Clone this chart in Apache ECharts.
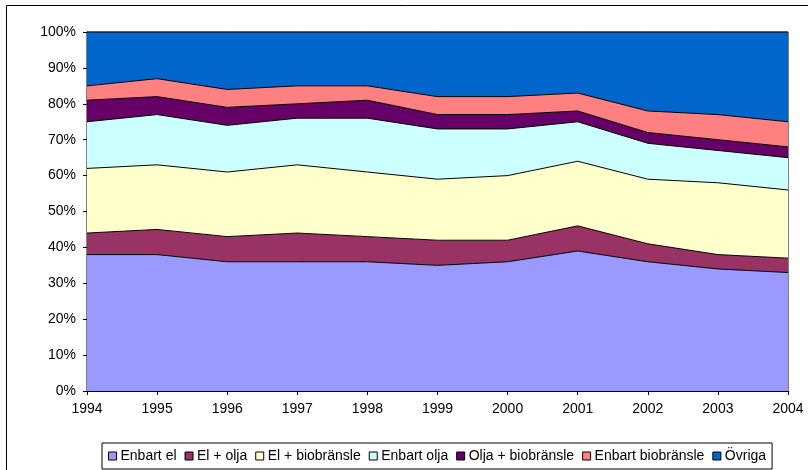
<!DOCTYPE html>
<html>
<head>
<meta charset="utf-8">
<script src="https://cdn.jsdelivr.net/npm/echarts@6/dist/echarts.min.js"></script>
<style>
  html, body { margin: 0; padding: 0; background: #fff; }
  #chart { width: 808px; height: 470px; }
</style>
</head>
<body>
<div id="chart"></div>
<script>
// år
const years = ['1994', '1995', '1996', '1997', '1998', '1999', '2000', '2001', '2002', '2003', '2004'];

// andel per uppvärmningssätt (%)
const enbartEl       = [38, 38, 36, 36, 36, 35, 36, 39, 36, 34, 33];
const elOlja         = [6, 7, 7, 8, 7, 7, 6, 7, 5, 4, 4];
const elBio          = [18, 18, 18, 19, 18, 17, 18, 18, 18, 20, 19];
const enbartOlja     = [13, 14, 13, 13, 15, 14, 13, 11, 10, 9, 9];
const oljaBio        = [6, 5, 5, 4, 5, 4, 4, 3, 3, 3, 3];
const enbartBio      = [4, 5, 5, 5, 4, 5, 5, 5, 6, 7, 7];
const ovriga         = [15, 13, 16, 15, 15, 18, 18, 17, 22, 23, 25];

const names  = ['Enbart el', 'El + olja', 'El + biobränsle', 'Enbart olja', 'Olja + biobränsle', 'Enbart biobränsle', 'Övriga'];
const values = [enbartEl, elOlja, elBio, enbartOlja, oljaBio, enbartBio, ovriga];
const colors = ['#9999FF', '#993366', '#FFFFCC', '#CCFFFF', '#660066', '#FF8080', '#0066CC'];

const font = 'Liberation Sans, Arial, sans-serif';

const chart = echarts.init(document.getElementById('chart'));

const series = names.map((n, i) => ({
  name: n,
  type: 'line',
  stack: 'total',
  data: values[i],
  symbol: 'none',
  lineStyle: { color: '#000', width: 1 },
  areaStyle: { color: colors[i], opacity: 1 },
  itemStyle: { color: colors[i], borderColor: '#000', borderWidth: 1 },
  emphasis: { disabled: true }
}));

chart.setOption({
  animation: false,
  color: colors,
  graphic: [{
    type: 'rect',
    shape: { x: 6.5, y: 5.5, width: 820, height: 480 },
    style: { fill: 'none', stroke: '#000', lineWidth: 1 },
    silent: true
  }],
  grid: {
    left: 87, top: 32, right: 20, bottom: 79,
    show: true, borderColor: '#000', borderWidth: 1, backgroundColor: 'transparent'
  },
  xAxis: {
    type: 'category',
    data: years,
    boundaryGap: false,
    axisLine: { lineStyle: { color: '#000', width: 1 } },
    axisTick: { show: true, length: 4, inside: false, lineStyle: { color: '#000' } },
    axisLabel: { color: '#000', fontFamily: font, fontSize: 14, margin: 11 },
    splitLine: { show: false }
  },
  yAxis: {
    type: 'value',
    min: 0, max: 100, interval: 10,
    axisLine: { show: true, lineStyle: { color: '#000', width: 1 } },
    axisTick: { show: true, length: 4, lineStyle: { color: '#000' } },
    axisLabel: { color: '#000', fontFamily: font, fontSize: 14, margin: 11, formatter: '{value}%' },
    splitLine: { show: false }
  },
  legend: {
    data: names,
    bottom: 1,
    left: 102,
    icon: 'rect',
    itemWidth: 8,
    itemHeight: 8,
    itemGap: 8,
    padding: [6, 6, 6, 6],
    borderColor: '#000',
    borderWidth: 1,
    itemStyle: { borderColor: '#000', borderWidth: 1 },
    textStyle: { color: '#000', fontFamily: font, fontSize: 14, padding: [0, 0, 0, -1] }
  },
  series: series
});
</script>
</body>
</html>
